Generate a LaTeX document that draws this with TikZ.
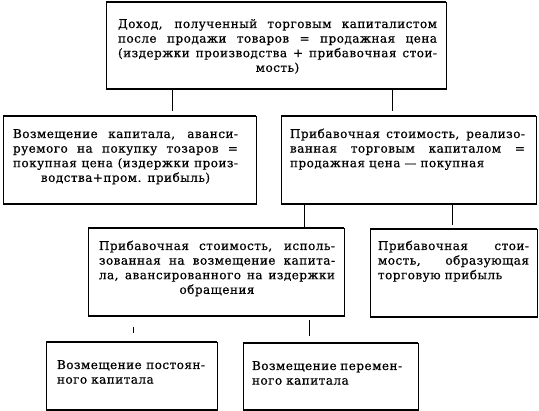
\documentclass[tikz,border=0pt]{standalone}
\usepackage{fontspec}
\setmainfont{DejaVu Serif}[LetterSpace=4, FakeBold=0.6]
\usetikzlibrary{calc}
\newcommand\JL[1]{\makebox[\W][s]{\spaceskip=0.3em plus 20em\relax #1}}
\newcommand\CL[1]{\makebox[\W][c]{#1}}
\tikzset{
  box/.style={draw, line width=0.7pt, inner sep=0pt, outer sep=0pt, anchor=north west},
  txt/.style={inner sep=0pt, outer sep=0pt, anchor=base west, align=left,
    font=\fontsize{12}{14.6}\selectfont},
  stub/.style={line width=0.8pt},
  edge/.style={line width=1.3pt}
}
\begin{document}
\begin{tikzpicture}[x=1pt, y=-1pt]
\useasboundingbox (0,0) rectangle (539,411);
% boxes
\node[box, minimum width=340pt, minimum height=87pt] (T) at (106,2) {};
\node[box, minimum width=253pt, minimum height=88pt] (A) at (3,116) {};
\node[box, minimum width=255pt, minimum height=88pt] (B) at (281,116) {};
\node[box, minimum width=256pt, minimum height=88pt] (C) at (88,228) {};
\node[box, minimum width=167pt, minimum height=88pt] (D) at (370,229) {};
\node[box, minimum width=171pt, minimum height=68pt] (E) at (46,342) {};
\node[box, minimum width=175pt, minimum height=67pt] (F) at (243,343) {};
\foreach \n in {T,A,B,C,D,E,F}{
  \draw[edge] (\n.north west) -- (\n.north east) (\n.south west) -- (\n.south east);
}
% texts
\node[txt, text width=319pt] (Tt) at ($(T.north west)+(12,26)$)
  {\def\W{319pt}\JL{Доход, полученный торговым капиталистом}\\
   \JL{после продажи товаров = продажная цена}\\
   \JL{(издержки производства + прибавочная стои-}\\
   \CL{мость)}};
\node[txt, text width=225pt] (At) at ($(A.north west)+(10,22)$)
  {\def\W{225pt}\JL{Возмещение капитала, аванси-}\\
   \JL{руемого на покупку тозаров =}\\
   \JL{покупная цена (издержки произ-}\\
   \CL{водства+пром. прибыль)}};
\node[txt, text width=235pt] (Bt) at ($(B.north west)+(9,22)$)
  {\def\W{235pt}\JL{Прибавочная стоимость, реализо-}\\
   \JL{ванная торговым капиталом =}\\
   продажная цена — покупная};
\node[txt, text width=236pt] (Ct) at ($(C.north west)+(11,22)$)
  {\def\W{236pt}\JL{Прибавочная стоимость, исполь-}\\
   \JL{зованная на возмещение капита-}\\
   \JL{ла, авансированного на издержки}\\
   \CL{обращения}};
\node[txt, text width=151pt] (Dt) at ($(D.north west)+(8,21)$)
  {\def\W{151pt}\JL{Прибавочная стои-}\\
   \JL{мость, образующая}\\
   торговую прибыль};
\node[txt, text width=148pt] (Et) at ($(E.north west)+(11,27)$)
  {\def\W{148pt}\JL{Возмещение постоян-}\\
   ного капитала};
\node[txt, text width=146pt] (Ft) at ($(F.north west)+(9,27)$)
  {\def\W{146pt}\JL{Возмещение перемен-}\\
   ного капитала};
% connectors
\coordinate (s1) at (172,0);
\coordinate (s2) at (392,0);
\coordinate (s3) at (304,0);
\coordinate (s4) at (452,0);
\coordinate (s5) at (133,0);
\coordinate (s6) at (309,0);
\draw[stub, shorten >=5pt] (T.south -| s1) -- (A.north -| s1);
\draw[stub, shorten >=5pt] (T.south -| s2) -- (B.north -| s2);
\draw[stub] (B.south -| s3) -- (C.north -| s3);
\draw[stub, shorten >=4pt] (B.south -| s4) -- (D.north -| s4);
\draw[stub, line width=0.5pt, shorten <=11pt, shorten >=9pt] (C.south -| s5) -- (E.north -| s5);
\draw[stub, shorten <=4pt, shorten >=7pt] (C.south -| s6) -- (F.north -| s6);
\end{tikzpicture}
\end{document}
